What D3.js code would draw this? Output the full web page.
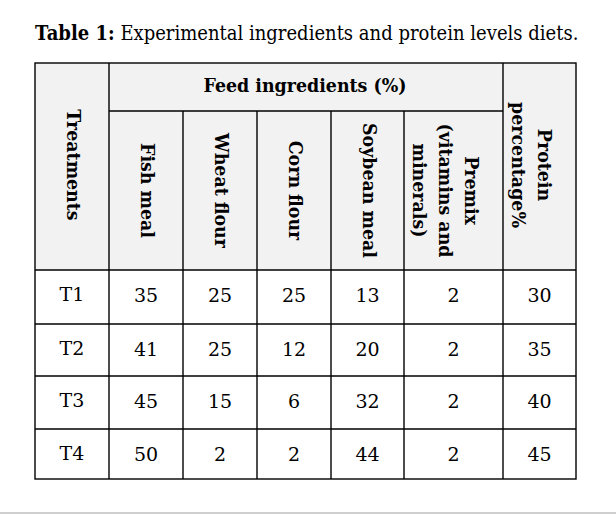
<!DOCTYPE html>
<html><head><meta charset="utf-8">
<script src="https://cdn.jsdelivr.net/npm/d3@7"></script>
<style>body{margin:0;background:#fff;} svg{display:block;}</style>
</head><body>
<svg id="c" width="616" height="514"></svg>
<script>
// ---------- data ----------
const titleBold = "Table 1:";
const titleRest = " Experimental ingredients and protein levels diets.";
const groupHeader = "Feed ingredients (%)";
const treatmentHeader = ["Treatments"];
const treatments = ["T1", "T2", "T3", "T4"];
const ingredientKeys = ["fish", "wheat", "corn", "soy", "premix"];
const ingredientLabels = [["Fish meal"], ["Wheat flour"], ["Corn flour"], ["Soybean meal"], ["Premix", "(vitamins and", "minerals)"]];
const fishMeal = [35, 41, 45, 50];
const wheatFlour = [25, 25, 15, 2];
const cornFlour = [25, 12, 6, 2];
const soybeanMeal = [13, 20, 32, 44];
const premix = [2, 2, 2, 2];
const proteinLabel = ["Protein", "percentage%"];
const proteinPct = [30, 35, 40, 45];

// ---------- layout ----------
const colKeys = ["treat"].concat(ingredientKeys, ["protein"]);
const colEdges = [35, 109, 183, 257, 331, 404, 503, 576];
const xLeft = d3.scaleOrdinal().domain(colKeys).range(colEdges.slice(0, -1));
const xRight = d3.scaleOrdinal().domain(colKeys).range(colEdges.slice(1));
const xMid = k => (xLeft(k) + xRight(k)) / 2;
const headTop = 63, subTop = 111, headBottom = 270;
const rowEdges = [270, 324, 376, 429, 479];
const yTop = d3.scaleOrdinal().domain(treatments).range(rowEdges.slice(0, -1));
const tableLeft = colEdges[0], tableRight = colEdges[colEdges.length - 1], tableBottom = rowEdges[rowEdges.length - 1];

const serif = "'DejaVu Serif', Georgia, serif";
const svg = d3.select("#c");

// bottom grey rule of the page image
svg.append("rect").attr("x", 0).attr("y", 512).attr("width", 616).attr("height", 2).attr("fill", "#cfcfcf");

// title (scaled horizontally by a transform so it fits its span)
const titleG = svg.append("g");
const title = titleG.append("text").attr("x", 0).attr("y", 0)
  .attr("font-family", serif).attr("font-size", 20).attr("fill", "#000");
title.append("tspan").attr("font-weight", "bold").text(titleBold);
title.append("tspan").text(titleRest);
{
  const w = title.node().getComputedTextLength();
  titleG.attr("transform", `translate(35,40) scale(${544 / w},1)`);
}

// header background
svg.append("rect").attr("x", tableLeft).attr("y", headTop)
  .attr("width", tableRight - tableLeft).attr("height", headBottom - headTop).attr("fill", "#f2f2f2");

// group header
const ghG = svg.append("g");
const gh = ghG.append("text").attr("x", 0).attr("y", 0).attr("text-anchor", "middle")
  .attr("font-family", serif).attr("font-weight", "bold").attr("font-size", 19).attr("fill", "#000")
  .text(groupHeader);
const ghNat = gh.node().getComputedTextLength();
const squeeze = 203 / ghNat;
ghG.attr("transform", `translate(305,92) scale(${squeeze},1)`);

// rotated header labels
function rotLabel(cx, cy, lines, lh) {
  const g = svg.append("g").attr("transform", `translate(${cx},${cy}) rotate(90) scale(${squeeze},1)`);
  const n = lines.length;
  lines.forEach((t, i) => {
    g.append("text").attr("x", 0).attr("y", (i - (n - 1) / 2) * lh)
      .attr("dy", "0.36em").attr("text-anchor", "middle")
      .attr("font-family", serif).attr("font-weight", "bold").attr("font-size", 19).attr("fill", "#000")
      .text(t);
  });
}
rotLabel(xMid("treat") + 2, 165, treatmentHeader, 26);
ingredientKeys.forEach((k, i) => {
  const lines = ingredientLabels[i];
  const cx = lines.length > 1 ? xMid(k) - 7.5 : xMid(k) + 2;
  rotLabel(cx, 190.5, lines, 26);
});
rotLabel(xMid("protein") - 7.5, 165, proteinLabel, 26);

// body cells
const seriesByKey = { fish: fishMeal, wheat: wheatFlour, corn: cornFlour, soy: soybeanMeal, premix: premix, protein: proteinPct };
const body = svg.append("g").attr("font-family", serif).attr("font-size", 19).attr("fill", "#000").attr("text-anchor", "middle");
treatments.forEach((t, r) => {
  const base = yTop(t) + 30.5;
  body.append("text").attr("x", xMid("treat")).attr("y", base).text(t);
  ingredientKeys.concat(["protein"]).forEach(k => {
    body.append("text").attr("x", xMid(k)).attr("y", base + 1).text(seriesByKey[k][r]);
  });
});

// grid lines
const lines = svg.append("g").attr("stroke", "#000").attr("stroke-width", 1.4).attr("fill", "none");
lines.append("rect").attr("x", tableLeft).attr("y", headTop).attr("width", tableRight - tableLeft).attr("height", tableBottom - headTop);
lines.append("line").attr("x1", xRight("treat")).attr("x2", xRight("treat")).attr("y1", headTop).attr("y2", tableBottom);
lines.append("line").attr("x1", xLeft("protein")).attr("x2", xLeft("protein")).attr("y1", headTop).attr("y2", tableBottom);
ingredientKeys.slice(0, -1).forEach(k => {
  lines.append("line").attr("x1", xRight(k)).attr("x2", xRight(k)).attr("y1", subTop).attr("y2", tableBottom);
});
lines.append("line").attr("x1", xLeft("fish")).attr("x2", xRight("premix")).attr("y1", subTop).attr("y2", subTop);
rowEdges.slice(0, -1).forEach(y => {
  lines.append("line").attr("x1", tableLeft).attr("x2", tableRight).attr("y1", y).attr("y2", y);
});
</script>
</body></html>
